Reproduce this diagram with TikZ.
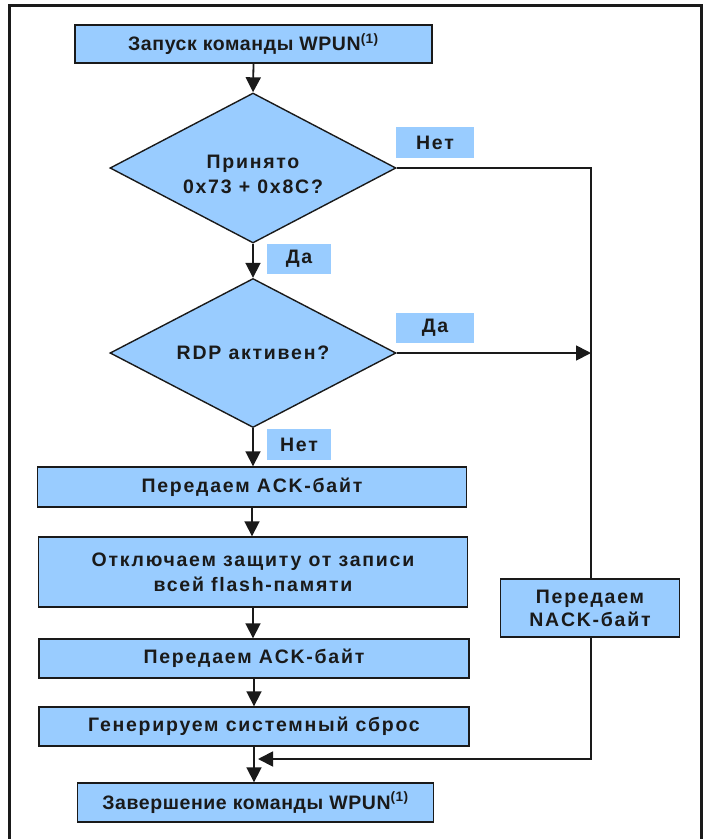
\documentclass[tikz,border=0pt]{standalone}
\usepackage{fontspec}
\setmainfont{Liberation Sans}[LetterSpace=9]
\newfontfamily\titlefont{Liberation Sans}[LetterSpace=3]
\usetikzlibrary{shapes.geometric,arrows.meta}
\definecolor{boxblue}{HTML}{99CCFF}
\definecolor{ink}{HTML}{1A1A1A}
\begin{document}
\begin{tikzpicture}[x=1pt,y=-1pt,
  txt/.style={font=\bfseries\fontsize{19.5}{25}\selectfont, text=ink, align=center},
  procbox/.style={txt, draw=ink, line width=1.4pt, fill=boxblue, inner sep=0pt},
  endbox/.style={procbox, font=\titlefont\bfseries\fontsize{19.5}{25}\selectfont},
  decision/.style={txt, diamond, aspect=1.9, draw=ink, line width=1.4pt, fill=boxblue, inner sep=0pt},
  tag/.style={txt, fill=boxblue, inner sep=0pt},
  link/.style={draw=ink, line width=1.8pt},
  flow/.style={link, -{Triangle[length=15pt,width=15pt]}}]
\useasboundingbox (0,0) rectangle (708,839);
% outer frame (open at the bottom)
\draw[ink, line width=3pt] (9.5,850) -- (9.5,5.5) -- (701,5.5) -- (701,850);

% main column
\node[endbox, minimum width=357pt, minimum height=38pt] (start) at (253.5,44) {Запуск команды WPUN\textsuperscript{(1)}};
\node[decision, minimum width=286pt, minimum height=150pt] (d1) at (253,168) {\rule{0pt}{26pt}Принято\\0x73 + 0x8C?};
\node[decision, minimum width=286pt, minimum height=149pt] (d2) at (253,353) {RDP активен?};
\node[procbox, minimum width=429pt, minimum height=40pt] (b1) at (252,487) {Передаем ACK-байт};
\node[procbox, minimum width=429pt, minimum height=70pt] (b2) at (253,572) {Отключаем защиту от записи\\всей flash-памяти};
\node[procbox, minimum width=430pt, minimum height=39pt] (b3) at (254,658.5) {Передаем ACK-байт};
\node[procbox, minimum width=430pt, minimum height=39pt] (b4) at (254,726.5) {Генерируем системный сброс};
\node[endbox, minimum width=356pt, minimum height=39pt] (fin) at (255.5,802.5) {Завершение команды WPUN\textsuperscript{(1)}};

% side branch
\node[procbox, minimum width=179pt, minimum height=58pt] (nack) at (590,608) {Передаем\\[-2pt]NACK-байт};

% branch labels
\node[tag, minimum width=78pt, minimum height=31pt] (no1) at (435,142.5) {Нет};
\node[tag, minimum width=64pt, minimum height=30pt] (yes1) at (299,259) {Да};
\node[tag, minimum width=78pt, minimum height=30pt] (yes2) at (435,328) {Да};
\node[tag, minimum width=64pt, minimum height=31pt] (no2) at (299,444.5) {Нет};

% helper points of the side line
\coordinate (turn) at (591,168);
\coordinate (hit) at (591,353);
\coordinate (corner) at (591,759);
\coordinate (join) at (258,759);

% connectors
\draw[flow] (start.south) -- (d1.north);
\draw[flow] (d1.south) -- (d2.north);
\draw[flow] (d2.south) -- (d2.south |- b1.north);
\draw[flow] (b1.south) -- (b1.south |- b2.north);
\draw[flow] (b2.south) -- (b2.south |- b3.north);
\draw[flow] (b3.south) -- (b3.south |- b4.north);
\draw[flow] (b4.south) -- (b4.south |- fin.north);
\draw[link] (d1.east) -- (turn) -- (turn |- nack.north);
\draw[flow] (d2.east) -- (hit);
\draw[flow] (nack.south -| corner) -- (corner) -- (join);
\end{tikzpicture}
\end{document}
